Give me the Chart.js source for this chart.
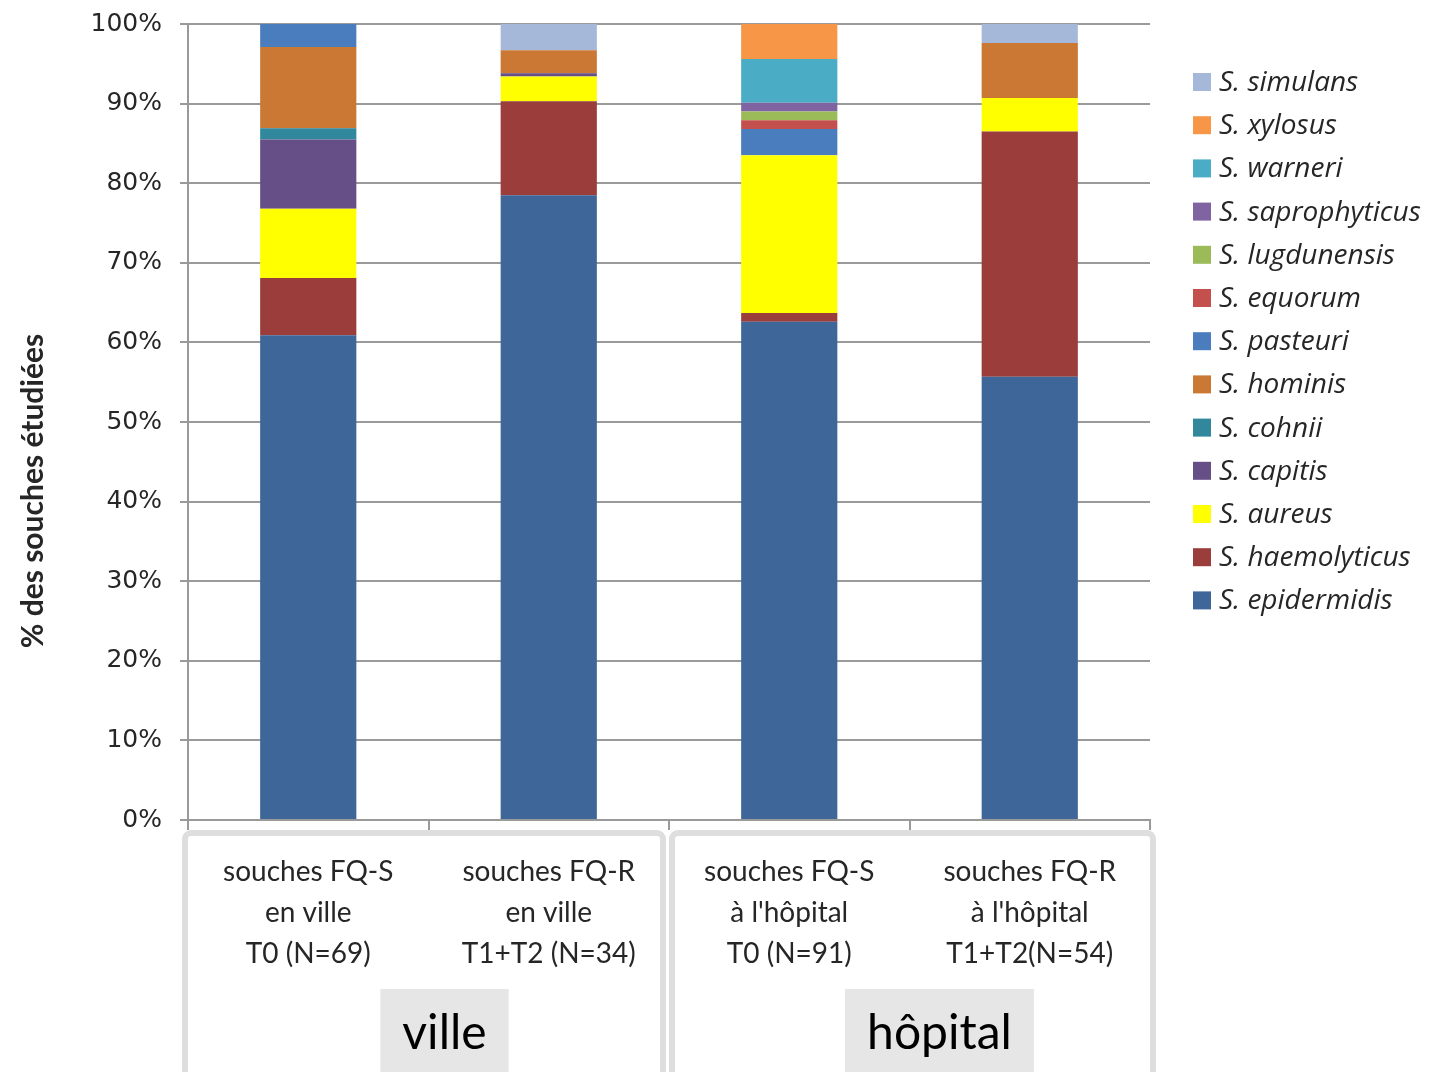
<!DOCTYPE html>
<html lang="fr">
<head>
<meta charset="utf-8">
<title>Espèces de staphylocoques</title>
<script src="https://cdn.jsdelivr.net/npm/chart.js@4/dist/chart.umd.min.js"></script>
<style>
  html, body { margin: 0; padding: 0; background: #ffffff; }
  #wrap { position: relative; width: 1429px; height: 1072px; }
</style>
</head>
<body>
<div id="wrap"><canvas id="chart"></canvas></div>
<script>
// Categories (multi-line axis labels) and their groups
const categories = [
  ["souches FQ-S", "en ville", "T0 (N=69)"],
  ["souches FQ-R", "en ville", "T1+T2 (N=34)"],
  ["souches FQ-S", "à l'hôpital", "T0 (N=91)"],
  ["souches FQ-R", "à l'hôpital", "T1+T2(N=54)"]
];
const groups = ["ville", "hôpital"];

// Share of studied strains (%) per species, one value per category
const epidermidis    = [60.9, 78.5, 62.6, 55.7];
const haemolyticus   = [7.2, 11.8, 1.1, 30.8];
const aureus         = [8.7, 3.1, 19.8, 4.2];
const capitis        = [8.7, 0.4, 0, 0];
const cohnii         = [1.4, 0, 0, 0];
const hominis        = [10.2, 2.9, 0, 6.9];
const pasteuri       = [2.9, 0, 3.3, 0];
const equorum        = [0, 0, 1.1, 0];
const lugdunensis    = [0, 0, 1.1, 0];
const saprophyticus  = [0, 0, 1.1, 0];
const warneri        = [0, 0, 5.5, 0];
const xylosus        = [0, 0, 4.4, 0];
const simulans       = [0, 3.3, 0, 2.4];

const yTicks = [0, 10, 20, 30, 40, 50, 60, 70, 80, 90, 100];
const yTitle = "% des souches étudiées";

const series = [
  { label: "S. epidermidis",   data: epidermidis,   color: "#3e6699" },
  { label: "S. haemolyticus",  data: haemolyticus,  color: "#9a3d3b" },
  { label: "S. aureus",        data: aureus,        color: "#ffff00" },
  { label: "S. capitis",       data: capitis,       color: "#664e86" },
  { label: "S. cohnii",        data: cohnii,        color: "#31879c" },
  { label: "S. hominis",       data: hominis,       color: "#cb7835" },
  { label: "S. pasteuri",      data: pasteuri,      color: "#4a7dbd" },
  { label: "S. equorum",       data: equorum,       color: "#c3504d" },
  { label: "S. lugdunensis",   data: lugdunensis,   color: "#9bbb59" },
  { label: "S. saprophyticus", data: saprophyticus, color: "#8064a2" },
  { label: "S. warneri",       data: warneri,       color: "#4bacc6" },
  { label: "S. xylosus",       data: xylosus,       color: "#f79646" },
  { label: "S. simulans",      data: simulans,      color: "#a6b8da" }
];

const FONT = "Lato, 'Open Sans', sans-serif";
const TEXT = "#262626";
const GRID = "#9a9a9a";

// Group frames under the axis, with their captions
const groupFrames = {
  id: "groupFrames",
  afterDraw(chart) {
    const { ctx } = chart;
    const x = chart.scales.x;
    const y0 = x.bottom - 239;
    const mid = (x.getPixelForValue(1) + x.getPixelForValue(2)) / 2;
    const frames = [
      [x.left - 3, mid - 6],
      [mid + 3, x.right + 3]
    ];
    const captionShift = [16, 30];
    ctx.save();
    ctx.strokeStyle = "#dedede";
    ctx.lineWidth = 6;
    frames.forEach(([l, r], i) => {
      ctx.beginPath();
      ctx.roundRect(l, y0, r - l, chart.height - y0 + 10, 6);
      ctx.stroke();
      const cx = (x.getPixelForValue(i * 2) + x.getPixelForValue(i * 2 + 1)) / 2 + captionShift[i];
      ctx.font = "48px " + FONT;
      const w = ctx.measureText(groups[i]).width + 44;
      ctx.fillStyle = "#e6e6e6";
      ctx.fillRect(cx - w / 2, chart.height - 83, w, 83);
      ctx.fillStyle = "#000";
      ctx.textAlign = "center";
      ctx.textBaseline = "middle";
      ctx.fillText(groups[i], cx, chart.height - 38);
    });
    ctx.restore();
  }
};

// Vertical axis caption, set lower than the plot's midline
const yCaption = {
  id: "yCaption",
  afterDraw(chart) {
    const { ctx } = chart;
    ctx.save();
    ctx.translate(33, 491);
    ctx.rotate(-Math.PI / 2);
    ctx.font = "bold 30px " + FONT;
    ctx.fillStyle = TEXT;
    ctx.textAlign = "center";
    ctx.textBaseline = "middle";
    ctx.fillText(yTitle, 0, 0);
    ctx.restore();
  }
};

// Legend on the right, top entry first
const sideLegend = {
  id: "sideLegend",
  afterDraw(chart) {
    const { ctx } = chart;
    ctx.save();
    ctx.font = "italic 28px 'Open Sans', sans-serif";
    ctx.textBaseline = "middle";
    ctx.textAlign = "left";
    const list = chart.data.datasets.slice().reverse();
    list.forEach((ds, i) => {
      const cy = 82 + i * 43.2;
      ctx.fillStyle = ds.backgroundColor;
      ctx.fillRect(1193, cy - 9, 18, 18);
      ctx.fillStyle = TEXT;
      ctx.fillText(ds.label, 1219, cy + 1);
    });
    ctx.restore();
  }
};

new Chart(document.getElementById("chart"), {
  type: "bar",
  data: {
    labels: categories,
    datasets: series.map(s => ({
      label: s.label,
      data: s.data,
      backgroundColor: s.color,
      borderWidth: 0,
      categoryPercentage: 1,
      barPercentage: 0.4
    }))
  },
  options: {
    responsive: true,
    maintainAspectRatio: false,
    animation: false,
    layout: { padding: { top: 24, right: 279, left: 0, bottom: 0 } },
    plugins: {
      legend: { display: false },
      tooltip: { enabled: false }
    },
    scales: {
      x: {
        stacked: true,
        afterFit(scale) { scale.height = 252; },
        grid: {
          offset: true,
          drawOnChartArea: false,
          color: GRID,
          lineWidth: 2,
          tickLength: 10
        },
        border: { color: GRID, width: 2 },
        ticks: {
          color: TEXT,
          padding: 22,
          maxRotation: 0,
          font: { family: FONT, size: 28, lineHeight: 1.45 }
        }
      },
      y: {
        stacked: true,
        min: 0,
        max: 100,
        afterFit(scale) {
          scale.width = 188;
          scale.paddingTop = 0;
          scale.paddingBottom = 0;
        },
        afterBuildTicks(scale) { scale.ticks = yTicks.map(v => ({ value: v })); },
        grid: { color: GRID, lineWidth: 2, tickLength: 8 },
        border: { color: GRID, width: 2 },
        ticks: {
          color: TEXT,
          padding: 18,
          font: { family: "'DejaVu Sans', sans-serif", size: 25 },
          callback: v => v + "%"
        }
      }
    }
  },
  plugins: [groupFrames, yCaption, sideLegend]
});
</script>
</body>
</html>
